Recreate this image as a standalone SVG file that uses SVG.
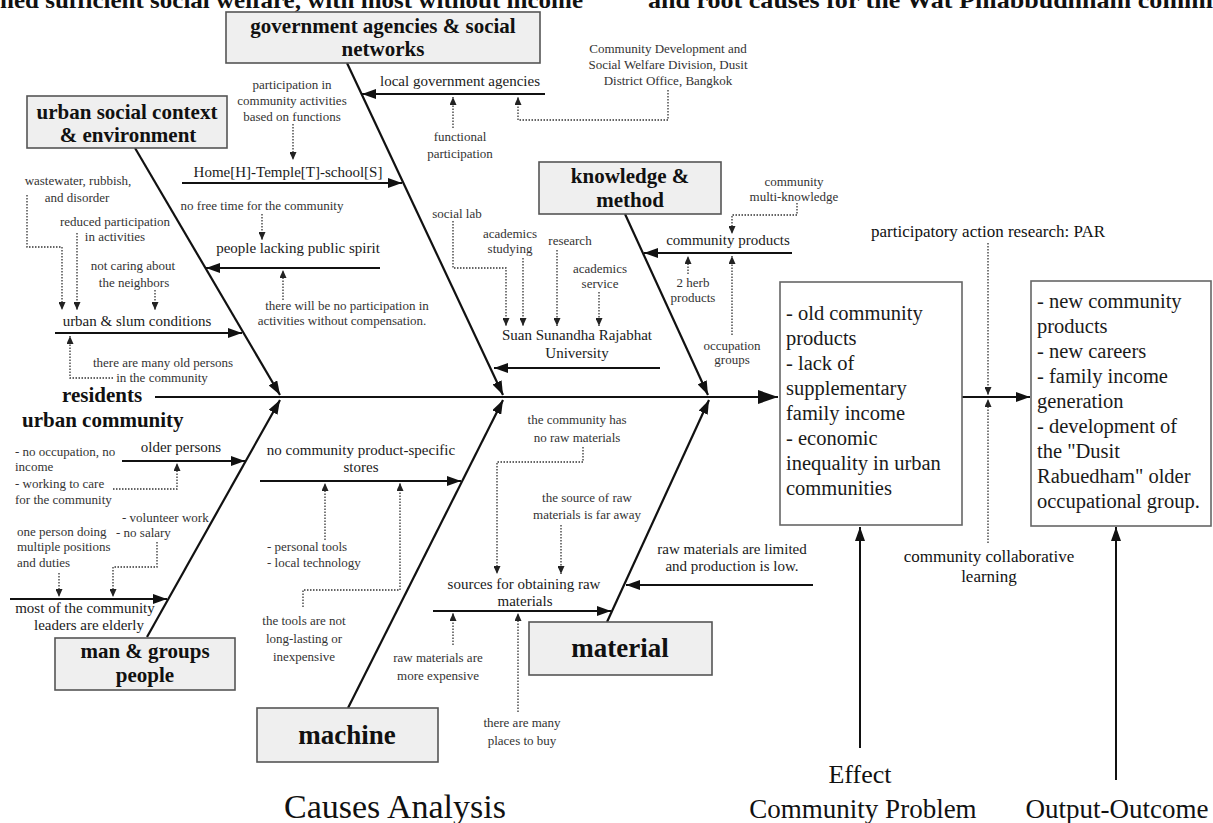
<svg xmlns="http://www.w3.org/2000/svg" width="1213" height="823" viewBox="0 0 1213 823">
<defs>
<style>
.box{fill:#efefef;stroke:#555;stroke-width:1.6}
.ebox{fill:#fff;stroke:#666;stroke-width:1.6}
.title{font-family:"Liberation Serif",serif;font-weight:bold;font-size:21px;fill:#111;text-anchor:middle}
.big{font-size:27px}
.lbl{font-family:"Liberation Serif",serif;font-size:15px;fill:#1a1a1a;text-anchor:middle}
.sm{font-family:"Liberation Serif",serif;font-size:13px;fill:#333;text-anchor:middle}
.st{text-anchor:start}
.eff{font-family:"Liberation Serif",serif;font-size:20.5px;fill:#1a1a1a}
.cap{font-family:"Liberation Serif",serif;fill:#111;text-anchor:middle}
.bone{stroke:#111;stroke-width:2.2;fill:none}
.br{stroke:#111;stroke-width:2;fill:none}
.dot{stroke:#333;stroke-width:1.3;stroke-dasharray:1.5 1.5;fill:none}
</style>
<marker id="ahb" markerUnits="userSpaceOnUse" markerWidth="20" markerHeight="14" refX="20" refY="7" orient="auto"><path d="M0,0 L20,7 L0,14 z" fill="#111"/></marker>
<marker id="ah" markerUnits="userSpaceOnUse" markerWidth="14" markerHeight="10" refX="14" refY="5" orient="auto"><path d="M0,0 L14,5 L0,10 z" fill="#111"/></marker>
<marker id="ahs" markerUnits="userSpaceOnUse" markerWidth="8" markerHeight="7" refX="8" refY="3.5" orient="auto"><path d="M0,0 L8,3.5 L0,7 z" fill="#222"/></marker>
</defs>
<rect width="1213" height="823" fill="#fff"/>

<g id="page-header" font-family="Liberation Serif, serif" font-size="24" font-weight="bold" fill="#111">
<text x="0" y="8" textLength="583" lengthAdjust="spacingAndGlyphs">ned sufficient social welfare, with most without income</text>
<text x="648" y="8" textLength="565" lengthAdjust="spacingAndGlyphs">and root causes for the Wat Phlabbudhham commi</text>
</g>

<g id="connectors">
<path class="br" d="M155,397 L778,397" stroke-width="4" marker-end="url(#ahb)"/>
<path class="bone" d="M135,148 L280,395" marker-end="url(#ah)"/>
<path class="bone" d="M347,63 L503,395" marker-end="url(#ah)"/>
<path class="bone" d="M625,214 L708,395" marker-end="url(#ah)"/>
<path class="bone" d="M147,637 L280,400" marker-end="url(#ah)"/>
<path class="bone" d="M348,708 L503,400" marker-end="url(#ah)"/>
<path class="bone" d="M607,622 L709,400" marker-end="url(#ah)"/>
<path class="br" d="M182,183 L402,183" marker-end="url(#ah)"/>
<path class="br" d="M545,94 L362,94" marker-end="url(#ah)"/>
<path class="br" d="M380,268 L206,268" marker-end="url(#ah)"/>
<path class="br" d="M55,333 L242,333" marker-end="url(#ah)"/>
<path class="br" d="M660,368 L494,368" marker-end="url(#ah)"/>
<path class="br" d="M792,253 L644,253" marker-end="url(#ah)"/>
<path class="br" d="M122,461 L245,461" marker-end="url(#ah)"/>
<path class="br" d="M10,599 L167,599" marker-end="url(#ah)"/>
<path class="br" d="M260,481 L461,481" marker-end="url(#ah)"/>
<path class="br" d="M433,611 L611,611" marker-end="url(#ah)"/>
<path class="br" d="M813,585 L626,585" marker-end="url(#ah)"/>
<path class="br" d="M962,397 L1030,397" stroke-width="1.8" marker-end="url(#ah)"/>
<path class="br" d="M860,748 L860,527" stroke-width="2.5" marker-end="url(#ah)"/>
<path class="br" d="M1116,780 L1116,527" stroke-width="2.5" marker-end="url(#ah)"/>
<path class="dot" d="M27,195 V247 H62 V310" marker-end="url(#ahs)"/>
<path class="dot" d="M77,233 V310" marker-end="url(#ahs)"/>
<path class="dot" d="M155,290 V310" marker-end="url(#ahs)"/>
<path class="dot" d="M113,378 H70 V336" marker-end="url(#ahs)"/>
<path class="dot" d="M262,214 V240" marker-end="url(#ahs)"/>
<path class="dot" d="M283,300 V270" marker-end="url(#ahs)"/>
<path class="dot" d="M293,124 V160" marker-end="url(#ahs)"/>
<path class="dot" d="M453,128 V97" marker-end="url(#ahs)"/>
<path class="dot" d="M668,90 V120 H518 V97" marker-end="url(#ahs)"/>
<path class="dot" d="M453,221 V268 H506 V326" marker-end="url(#ahs)"/>
<path class="dot" d="M523,258 V326" marker-end="url(#ahs)"/>
<path class="dot" d="M557,250 V326" marker-end="url(#ahs)"/>
<path class="dot" d="M599,292 V326" marker-end="url(#ahs)"/>
<path class="dot" d="M797,203 V215 H732 V234" marker-end="url(#ahs)"/>
<path class="dot" d="M688,274 V256" marker-end="url(#ahs)"/>
<path class="dot" d="M732,335 V256" marker-end="url(#ahs)"/>
<path class="dot" d="M113,489 H177 V463" marker-end="url(#ahs)"/>
<path class="dot" d="M59,573 V597" marker-end="url(#ahs)"/>
<path class="dot" d="M157,542 V567 H113 V597" marker-end="url(#ahs)"/>
<path class="dot" d="M325,540 V483" marker-end="url(#ahs)"/>
<path class="dot" d="M303,607 V590 H400 V483" marker-end="url(#ahs)"/>
<path class="dot" d="M583,447 V462 H497 V574" marker-end="url(#ahs)"/>
<path class="dot" d="M561,525 V574" marker-end="url(#ahs)"/>
<path class="dot" d="M453,645 V613" marker-end="url(#ahs)"/>
<path class="dot" d="M518,712 V613" marker-end="url(#ahs)"/>
<path class="dot" d="M988,243 V395" marker-end="url(#ahs)"/>
<path class="dot" d="M988,543 V399" marker-end="url(#ahs)"/>
</g>

<g id="cat-government">
<rect class="box" x="226" y="12" width="314" height="51"/>
<text class="title" x="383" y="33">government agencies &amp; social</text>
<text class="title" x="383" y="56">networks</text>
</g>
<g id="cat-urban-social">
<rect class="box" x="27" y="96" width="200" height="52"/>
<text class="title" x="127" y="119">urban social context</text>
<text class="title" x="128" y="142">&amp; environment</text>
</g>
<g id="cat-knowledge">
<rect class="box" x="539" y="162" width="182" height="52"/>
<text class="title" x="630" y="183">knowledge &amp;</text>
<text class="title" x="630" y="207">method</text>
</g>
<g id="cat-man">
<rect class="box" x="55" y="638" width="180" height="52"/>
<text class="title" x="145" y="658">man &amp; groups</text>
<text class="title" x="145" y="682">people</text>
</g>
<g id="cat-machine">
<rect class="box" x="257" y="708" width="181" height="54"/>
<text class="title big" x="347" y="744">machine</text>
</g>
<g id="cat-material">
<rect class="box" x="529" y="622" width="183" height="53"/>
<text class="title big" x="620" y="657">material</text>
</g>

<g id="spine-labels">
<text class="title st" x="62" y="402">residents</text>
<text class="title st" x="22" y="427">urban community</text>
</g>

<g id="branch-labels">
<text class="lbl" x="288" y="177">Home[H]-Temple[T]-school[S]</text>
<text class="lbl" x="460" y="86">local government agencies</text>
<text class="lbl" x="298" y="253">people lacking public spirit</text>
<text class="lbl" x="137" y="326">urban &amp; slum conditions</text>
<text class="lbl" x="577" y="340">Suan Sunandha Rajabhat</text>
<text class="lbl" x="577" y="358">University</text>
<text class="lbl" x="728" y="245">community products</text>
<text class="lbl" x="181" y="452" font-size="18">older persons</text>
<text class="lbl" x="85" y="613">most of the community</text>
<text class="lbl" x="89" y="630">leaders are elderly</text>
<text class="lbl" x="361" y="455">no community product-specific</text>
<text class="lbl" x="361" y="472">stores</text>
<text class="lbl" x="524" y="589">sources for obtaining raw</text>
<text class="lbl" x="525" y="606">materials</text>
<text class="lbl" x="732" y="554">raw materials are limited</text>
<text class="lbl" x="732" y="571">and production is low.</text>
</g>

<g id="cause-notes">
<text class="sm" x="292" y="89">participation in</text>
<text class="sm" x="292" y="105">community activities</text>
<text class="sm" x="292" y="121">based on functions</text>
<text class="sm" x="668" y="53">Community Development and</text>
<text class="sm" x="668" y="69">Social Welfare Division, Dusit</text>
<text class="sm" x="668" y="85">District Office, Bangkok</text>
<text class="sm" x="460" y="141">functional</text>
<text class="sm" x="460" y="158">participation</text>
<text class="sm" x="78" y="185">wastewater, rubbish,</text>
<text class="sm" x="77" y="202">and disorder</text>
<text class="sm" x="115" y="226">reduced participation</text>
<text class="sm" x="115" y="241">in activities</text>
<text class="sm" x="133" y="270">not caring about</text>
<text class="sm" x="134" y="287">the neighbors</text>
<text class="sm" x="163" y="367">there are many old persons</text>
<text class="sm" x="162" y="382">in the community</text>
<text class="sm" x="262" y="210">no free time for the community</text>
<text class="sm" x="347" y="310">there will be no participation in</text>
<text class="sm" x="342" y="325">activities without compensation.</text>
<text class="sm" x="457" y="218">social lab</text>
<text class="sm" x="510" y="238">academics</text>
<text class="sm" x="510" y="253">studying</text>
<text class="sm" x="570" y="245">research</text>
<text class="sm" x="600" y="273">academics</text>
<text class="sm" x="600" y="288">service</text>
<text class="sm" x="794" y="186">community</text>
<text class="sm" x="794" y="201">multi-knowledge</text>
<text class="sm" x="693" y="287">2 herb</text>
<text class="sm" x="693" y="302">products</text>
<text class="sm" x="732" y="350">occupation</text>
<text class="sm" x="732" y="364">groups</text>
<text class="sm st" x="15" y="456">- no occupation, no</text>
<text class="sm st" x="15" y="471">income</text>
<text class="sm st" x="15" y="488">- working to care</text>
<text class="sm st" x="15" y="504">for the community</text>
<text class="sm st" x="17" y="536">one person doing</text>
<text class="sm st" x="17" y="551">multiple positions</text>
<text class="sm st" x="17" y="567">and duties</text>
<text class="sm st" x="122" y="522">- volunteer work</text>
<text class="sm st" x="116" y="537">- no salary</text>
<text class="sm st" x="267" y="551">- personal tools</text>
<text class="sm st" x="267" y="567">- local technology</text>
<text class="sm" x="304" y="625">the tools are not</text>
<text class="sm" x="304" y="643">long-lasting or</text>
<text class="sm" x="304" y="661">inexpensive</text>
<text class="sm" x="577" y="424">the community has</text>
<text class="sm" x="577" y="442">no raw materials</text>
<text class="sm" x="587" y="502">the source of raw</text>
<text class="sm" x="587" y="519">materials is far away</text>
<text class="sm" x="438" y="662">raw materials are</text>
<text class="sm" x="438" y="680">more expensive</text>
<text class="sm" x="522" y="727">there are many</text>
<text class="sm" x="522" y="745">places to buy</text>
</g>

<g id="effect-box">
<rect class="ebox" x="780" y="282" width="182" height="243"/>
<text class="eff" x="786" y="320">- old community</text>
<text class="eff" x="786" y="345">products</text>
<text class="eff" x="786" y="370">- lack of</text>
<text class="eff" x="786" y="395">supplementary</text>
<text class="eff" x="786" y="420">family income</text>
<text class="eff" x="786" y="445">- economic</text>
<text class="eff" x="786" y="470">inequality in urban</text>
<text class="eff" x="786" y="495">communities</text>
</g>
<g id="output-box">
<rect class="ebox" x="1031" y="281" width="180" height="245"/>
<text class="eff" x="1037" y="308">- new community</text>
<text class="eff" x="1037" y="333">products</text>
<text class="eff" x="1037" y="358">- new careers</text>
<text class="eff" x="1037" y="383">- family income</text>
<text class="eff" x="1037" y="408">generation</text>
<text class="eff" x="1037" y="433">- development of</text>
<text class="eff" x="1037" y="458">the "Dusit</text>
<text class="eff" x="1037" y="483">Rabuedham" older</text>
<text class="eff" x="1037" y="508">occupational group.</text>
</g>
<g id="process-labels">
<text class="cap" x="988" y="237" font-size="17">participatory action research: PAR</text>
<text class="cap" x="989" y="562" font-size="17">community collaborative</text>
<text class="cap" x="989" y="582" font-size="17">learning</text>
</g>
<g id="captions">
<text class="cap" x="860" y="783" font-size="26">Effect</text>
<text class="cap" x="863" y="818" font-size="27">Community Problem</text>
<text class="cap" x="1117" y="818" font-size="27">Output-Outcome</text>
<text class="cap" x="395" y="818" font-size="34">Causes Analysis</text>
</g>
</svg>
